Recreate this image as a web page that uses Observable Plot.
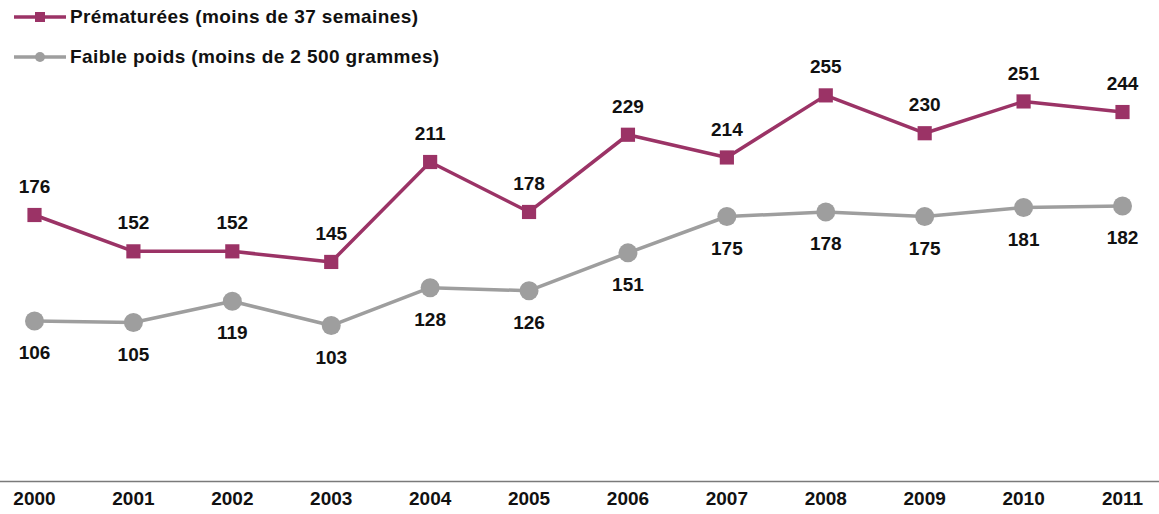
<!DOCTYPE html>
<html>
<head>
<meta charset="utf-8">
<script src="https://cdn.jsdelivr.net/npm/d3@7"></script>
<script src="https://cdn.jsdelivr.net/npm/@observablehq/plot@0.6"></script>
<style>
  html, body { margin: 0; padding: 0; background: #fff; }
  #wrap { position: relative; width: 1159px; height: 514px; font-family: "Liberation Sans", Arial, sans-serif; }
  #legend { position: absolute; left: 14px; top: -3px; }
  .item { display: flex; align-items: center; height: 40px; font-size: 19px; font-weight: bold; color: #111; letter-spacing: 0.4px; }
  .item svg { margin-right: 4px; }
</style>
</head>
<body>
<div id="wrap"></div>
<script>
const years = [2000, 2001, 2002, 2003, 2004, 2005, 2006, 2007, 2008, 2009, 2010, 2011];
const premature = [176, 152, 152, 145, 211, 178, 229, 214, 255, 230, 251, 244];
const lowWeight = [106, 105, 119, 103, 128, 126, 151, 175, 178, 175, 181, 182];
const seriesNames = ["Prématurées (moins de 37 semaines)", "Faible poids (moins de 2 500 grammes)"];
const colors = ["#9b3366", "#9e9e9e"];

const pre = years.map((y, i) => ({year: y, value: premature[i]}));
const low = years.map((y, i) => ({year: y, value: lowWeight[i]}));

const chart = Plot.plot({
  width: 1159,
  height: 514,
  marginLeft: 34,
  marginRight: 37,
  marginTop: 1,
  marginBottom: 33,
  style: {fontFamily: "'Liberation Sans', Arial, sans-serif", background: "#fff"},
  x: {domain: [2000, 2011], axis: null},
  y: {domain: [0, 317], axis: null},
  marks: [
    Plot.ruleY([0], {stroke: "#7a7a7a", strokeWidth: 1.5, insetLeft: -34, insetRight: -37}),
    Plot.axisX({ticks: years, tickFormat: "d", tickSize: 0, tickPadding: 10, label: null, fontSize: 19, fontWeight: "bold", fill: "#111", style: "letter-spacing:0.8px"}),
    Plot.line(low, {x: "year", y: "value", stroke: colors[1], strokeWidth: 3.5}),
    Plot.dot(low, {x: "year", y: "value", r: 9.5, fill: colors[1], stroke: "none"}),
    Plot.text(low, {x: "year", y: "value", text: d => String(d.value), dy: 32, fontSize: 19, fontWeight: "bold", fill: "#111", style: "letter-spacing:0.8px"}),
    Plot.line(pre, {x: "year", y: "value", stroke: colors[0], strokeWidth: 3.5}),
    Plot.dot(pre, {x: "year", y: "value", r: 8, symbol: "square", fill: colors[0], stroke: "none"}),
    Plot.text(pre, {x: "year", y: "value", text: d => String(d.value), dy: -28, fontSize: 19, fontWeight: "bold", fill: "#111", style: "letter-spacing:0.8px"})
  ]
});
const wrap = document.getElementById("wrap");
wrap.appendChild(chart);

const legend = document.createElement("div");
legend.id = "legend";
legend.innerHTML = `
  <div class="item"><svg width="52" height="14"><line x1="0" y1="7" x2="52" y2="7" stroke="${colors[0]}" stroke-width="3.5"/><rect x="21" y="2" width="10" height="10" fill="${colors[0]}"/></svg>${seriesNames[0]}</div>
  <div class="item"><svg width="52" height="14"><line x1="0" y1="7" x2="52" y2="7" stroke="${colors[1]}" stroke-width="3.5"/><circle cx="26" cy="7" r="5" fill="${colors[1]}"/></svg>${seriesNames[1]}</div>`;
wrap.appendChild(legend);
</script>
</body>
</html>
